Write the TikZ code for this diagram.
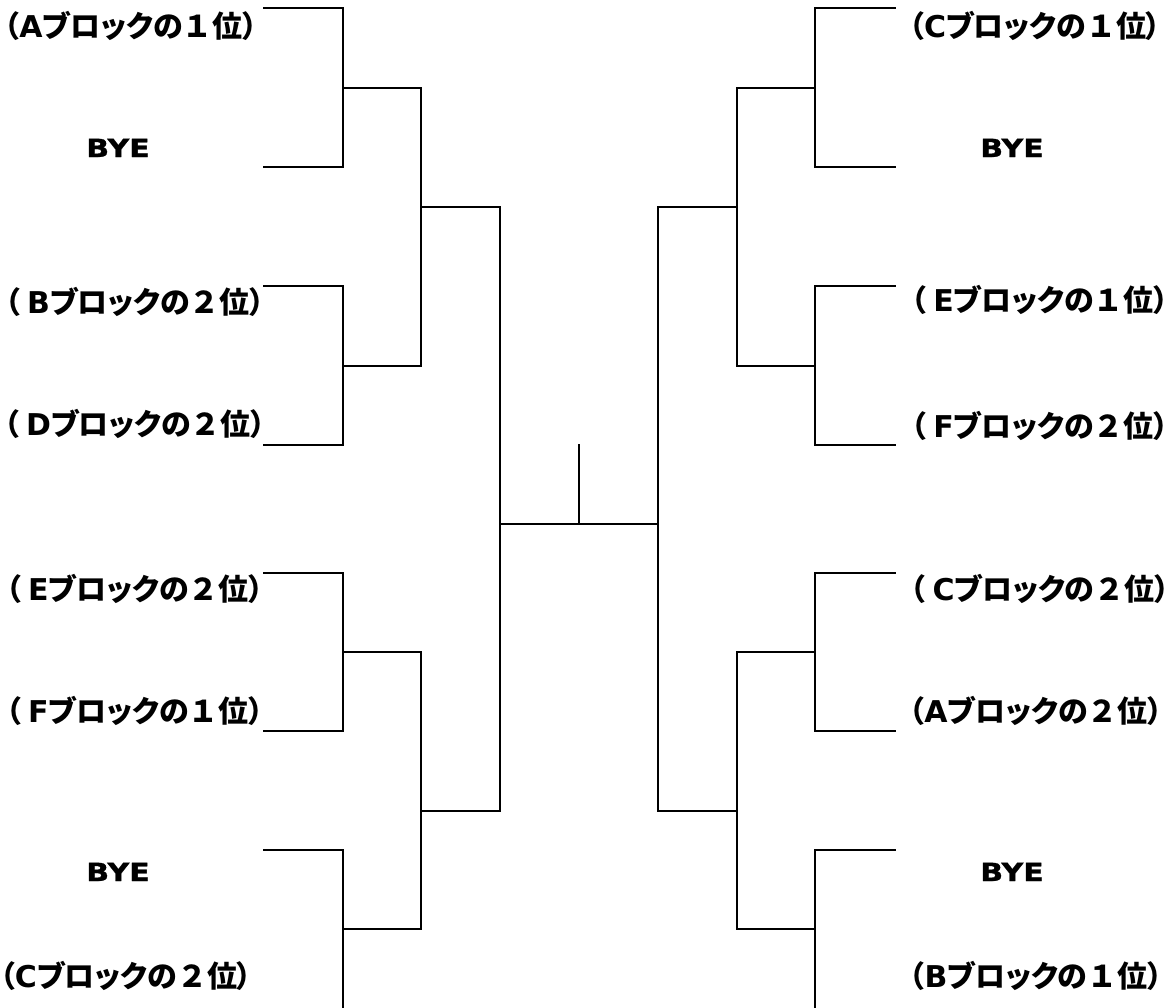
\documentclass[tikz,border=0pt]{standalone}
\usepackage{fontspec}
\newfontfamily\jpfam{Noto Sans CJK JP}[RawFeature=+palt]
\newfontfamily\jpfw{Noto Sans CJK JP}
\newfontfamily\latfam{DejaVu Sans}
\newfontfamily\byefam{DejaVu Sans}[FakeStretch=1.2,FakeBold=1.2]
\newcommand\JPf{\jpfam\bfseries\fontsize{30}{32}\selectfont}
\newcommand\JPw{\jpfw\bfseries\fontsize{30}{32}\selectfont}
\newcommand\LTf{\latfam\bfseries\fontsize{30}{32}\selectfont}
\newcommand\BYEf{\byefam\bfseries\fontsize{25}{27}\selectfont}
% #1 gap, #2 letter, #3 rank
\newcommand\BlockLab[3]{{\JPf （}#1{\LTf #2}{\JPf ブロックの}{\JPw #3}{\JPf 位）}}
\newcommand\Gap{\hspace{7pt}}
\tikzset{
  lbl/.style={inner sep=0pt, anchor=base, text=black},
  bline/.style={line width=2pt, line join=miter, line cap=rect, draw=black}
}
\begin{document}
\begin{tikzpicture}[x=1pt,y=-1pt]
\useasboundingbox (0,0) rectangle (1174,1007);
\fill[white] (0,0) rectangle (1174,1007);

% ---------- labels, left ----------
\node[lbl] (la1) at (131,37)  {\BlockLab{}{A}{１}};
\node[lbl] (lby1) at (118,157) {\BYEf BYE};
\node[lbl] (lb2) at (135,313) {\BlockLab{\Gap}{B}{２}};
\node[lbl] (ld2) at (135,435) {\BlockLab{\Gap}{D}{２}};
\node[lbl] (le2) at (135,600) {\BlockLab{\Gap}{E}{２}};
\node[lbl] (lf1) at (135,722) {\BlockLab{\Gap}{F}{１}};
\node[lbl] (lby2) at (118,881) {\BYEf BYE};
\node[lbl] (lc2) at (126,987) {\BlockLab{}{C}{２}};

% ---------- labels, right ----------
\node[lbl] (rc1) at (1035,37) {\BlockLab{}{C}{１}};
\node[lbl] (rby1) at (1012,157) {\BYEf BYE};
\node[lbl] (re1) at (1040,311) {\BlockLab{\Gap}{E}{１}};
\node[lbl] (rf2) at (1040,437) {\BlockLab{\Gap}{F}{２}};
\node[lbl] (rc2) at (1040,600) {\BlockLab{\Gap}{C}{２}};
\node[lbl] (ra2) at (1036,722) {\BlockLab{}{A}{２}};
\node[lbl] (rby2) at (1012,881) {\BYEf BYE};
\node[lbl] (rb1) at (1036,987) {\BlockLab{}{B}{１}};

% ---------- coordinates, left ----------
\coordinate (L1a) at (264,8);   \coordinate (L1b) at (343,8);
\coordinate (L1c) at (343,167); \coordinate (L1d) at (264,167);
\coordinate (L1m) at (343,88);  \coordinate (L1o) at (421,88);

\coordinate (L2a) at (264,286); \coordinate (L2b) at (343,286);
\coordinate (L2c) at (343,445); \coordinate (L2d) at (264,445);
\coordinate (L2m) at (343,366); \coordinate (L2o) at (421,366);

\coordinate (L3a) at (264,573); \coordinate (L3b) at (343,573);
\coordinate (L3c) at (343,731); \coordinate (L3d) at (264,731);
\coordinate (L3m) at (343,652); \coordinate (L3o) at (421,652);

\coordinate (L4a) at (264,850); \coordinate (L4b) at (343,850);
\coordinate (L4c) at (343,1008);
\coordinate (L4m) at (343,929); \coordinate (L4o) at (421,929);

\coordinate (LUm) at (421,207); \coordinate (LUo) at (500,207);
\coordinate (LLm) at (421,811); \coordinate (LLo) at (500,811);
\coordinate (Cl) at (500,524);  \coordinate (Cr) at (658,524);
\coordinate (Tb) at (579,524);  \coordinate (Tt) at (579,445);

% ---------- coordinates, right ----------
\coordinate (R1a) at (895,8);   \coordinate (R1b) at (815,8);
\coordinate (R1c) at (815,167); \coordinate (R1d) at (895,167);
\coordinate (R1m) at (815,88);  \coordinate (R1o) at (737,88);

\coordinate (R2a) at (895,286); \coordinate (R2b) at (815,286);
\coordinate (R2c) at (815,445); \coordinate (R2d) at (895,445);
\coordinate (R2m) at (815,366); \coordinate (R2o) at (737,366);

\coordinate (R3a) at (895,573); \coordinate (R3b) at (815,573);
\coordinate (R3c) at (815,731); \coordinate (R3d) at (895,731);
\coordinate (R3m) at (815,652); \coordinate (R3o) at (737,652);

\coordinate (R4a) at (895,850); \coordinate (R4b) at (815,850);
\coordinate (R4c) at (815,1008);
\coordinate (R4m) at (815,929); \coordinate (R4o) at (737,929);

\coordinate (RUm) at (737,207); \coordinate (RUo) at (658,207);
\coordinate (RLm) at (737,811); \coordinate (RLo) at (658,811);

% ---------- brackets, left ----------
\draw[bline] (L1a) -- (L1b) -- (L1c) -- (L1d);
\draw[bline] (L1m) -- (L1o);
\draw[bline] (L2a) -- (L2b) -- (L2c) -- (L2d);
\draw[bline] (L2m) -- (L2o);
\draw[bline] (L3a) -- (L3b) -- (L3c) -- (L3d);
\draw[bline] (L3m) -- (L3o);
\draw[bline] (L4a) -- (L4b) -- (L4c);
\draw[bline] (L4m) -- (L4o);
\draw[bline] (L1o) -- (L2o);
\draw[bline] (LUm) -- (LUo);
\draw[bline] (L3o) -- (L4o);
\draw[bline] (LLm) -- (LLo);
\draw[bline] (LUo) -- (LLo);

% ---------- centre ----------
\draw[bline] (Cl) -- (Cr);
\draw[bline] (Tb) -- (Tt);

% ---------- brackets, right ----------
\draw[bline] (R1a) -- (R1b) -- (R1c) -- (R1d);
\draw[bline] (R1m) -- (R1o);
\draw[bline] (R2a) -- (R2b) -- (R2c) -- (R2d);
\draw[bline] (R2m) -- (R2o);
\draw[bline] (R3a) -- (R3b) -- (R3c) -- (R3d);
\draw[bline] (R3m) -- (R3o);
\draw[bline] (R4a) -- (R4b) -- (R4c);
\draw[bline] (R4m) -- (R4o);
\draw[bline] (R1o) -- (R2o);
\draw[bline] (RUm) -- (RUo);
\draw[bline] (R3o) -- (R4o);
\draw[bline] (RLm) -- (RLo);
\draw[bline] (RUo) -- (RLo);
\end{tikzpicture}
\end{document}
